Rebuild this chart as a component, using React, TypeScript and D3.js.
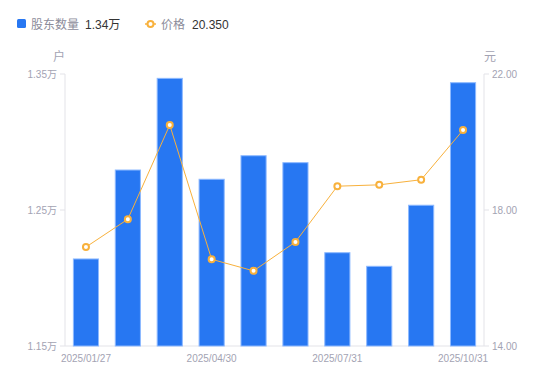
import React from "react";
import * as d3 from "d3";

const dates = ["2025/01/27","2025/02/28","2025/03/31","2025/04/30","2025/05/31","2025/06/30","2025/07/31","2025/08/31","2025/09/30","2025/10/31"];
const holders = [12140, 12794, 13468, 12726, 12899, 12848, 12186, 12086, 12535, 13436];
const prices = [16.91, 17.73, 20.50, 16.55, 16.21, 17.06, 18.70, 18.74, 18.89, 20.35];
const leftTicks = [11500, 12500, 13500];
const rightTicks = [14, 18, 22];
const xLabelIdx = [0, 3, 6, 9];

const W = 550, H = 381;
const M = { left: 65, right: 484, top: 74, bottom: 346 };
const FONT = "'Liberation Sans', 'Noto Sans CJK SC', sans-serif";
const BLUE = "#2777f2";
const ORANGE = "#f8b13c";
const GRAY = "#a3a3b3";
const AXIS = "#e3e3e8";

export default function App() {
  const yL = d3.scaleLinear().domain([11500, 13500]).range([M.bottom, M.top]);
  const yR = d3.scaleLinear().domain([14, 22]).range([M.bottom, M.top]);
  const band = (M.right - M.left) / dates.length;
  const cx = (i: number) => M.left + band * (i + 0.5);
  const line = d3.line<number>().x((_, i) => cx(i)).y((d) => yR(d));
  const bw = band * 0.6;
  const fmtW = (v: number) => (v / 10000).toFixed(2) + "万";

  return (
    <svg width={W} height={H} style={{ position: "absolute", left: 0, top: 0, fontFamily: FONT }}>
      <rect width={W} height={H} fill="#fff" />
      {/* legend */}
      <rect x={17} y={19} width={9} height={9} rx={1.5} fill={BLUE} />
      <text x={31} y={28.5} fontSize={12} fill="#8c8c9a">股东数量</text>
      <text x={85} y={28.5} fontSize={12} fill="#333">{fmtW(13436)}</text>
      <line x1={145} x2={156} y1={24} y2={24} stroke={ORANGE} strokeWidth={1.5} />
      <circle cx={150.5} cy={24} r={3} fill="#fff" stroke={ORANGE} strokeWidth={2} />
      <text x={161} y={28.5} fontSize={12} fill="#8c8c9a">价格</text>
      <text x={192} y={28.5} fontSize={12} fill="#333">20.350</text>

      {/* unit labels */}
      <text x={59} y={61} fontSize={12} fill={GRAY} textAnchor="middle">户</text>
      <text x={490} y={61} fontSize={12} fill={GRAY} textAnchor="middle">元</text>

      {/* axes */}
      <line x1={M.left} x2={M.left} y1={M.top} y2={M.bottom} stroke={AXIS} />
      <line x1={M.right} x2={M.right} y1={M.top} y2={M.bottom} stroke={AXIS} />
      <line x1={M.left} x2={M.right} y1={M.bottom} y2={M.bottom} stroke={AXIS} />
      {leftTicks.map((t) => (
        <g key={"l" + t}>
          <line x1={M.left - 5} x2={M.left} y1={yL(t)} y2={yL(t)} stroke={AXIS} />
          <text x={M.left - 8} y={yL(t)} dy="0.35em" fontSize={10} fill={GRAY} textAnchor="end">{fmtW(t)}</text>
        </g>
      ))}
      {rightTicks.map((t) => (
        <g key={"r" + t}>
          <line x1={M.right} x2={M.right + 5} y1={yR(t)} y2={yR(t)} stroke={AXIS} />
          <text x={M.right + 8} y={yR(t)} dy="0.35em" fontSize={10} fill={GRAY} textAnchor="start">{t.toFixed(2)}</text>
        </g>
      ))}
      {xLabelIdx.map((i) => (
        <text key={"x" + i} x={cx(i)} y={M.bottom + 16} fontSize={10} fill={GRAY} textAnchor="middle">{dates[i]}</text>
      ))}

      {/* bars */}
      {holders.map((v, i) => (
        <rect key={"b" + i} x={cx(i) - bw / 2} y={yL(v)} width={bw} height={M.bottom - yL(v)}
          fill={BLUE} stroke="#8db9ff" strokeWidth={1} />
      ))}

      {/* price line */}
      <path d={line(prices) || ""} fill="none" stroke={ORANGE} strokeWidth={1} />
      {prices.map((p, i) => (
        <circle key={"p" + i} cx={cx(i)} cy={yR(p)} r={3} fill="#fff" stroke={ORANGE} strokeWidth={2} />
      ))}
    </svg>
  );
}
